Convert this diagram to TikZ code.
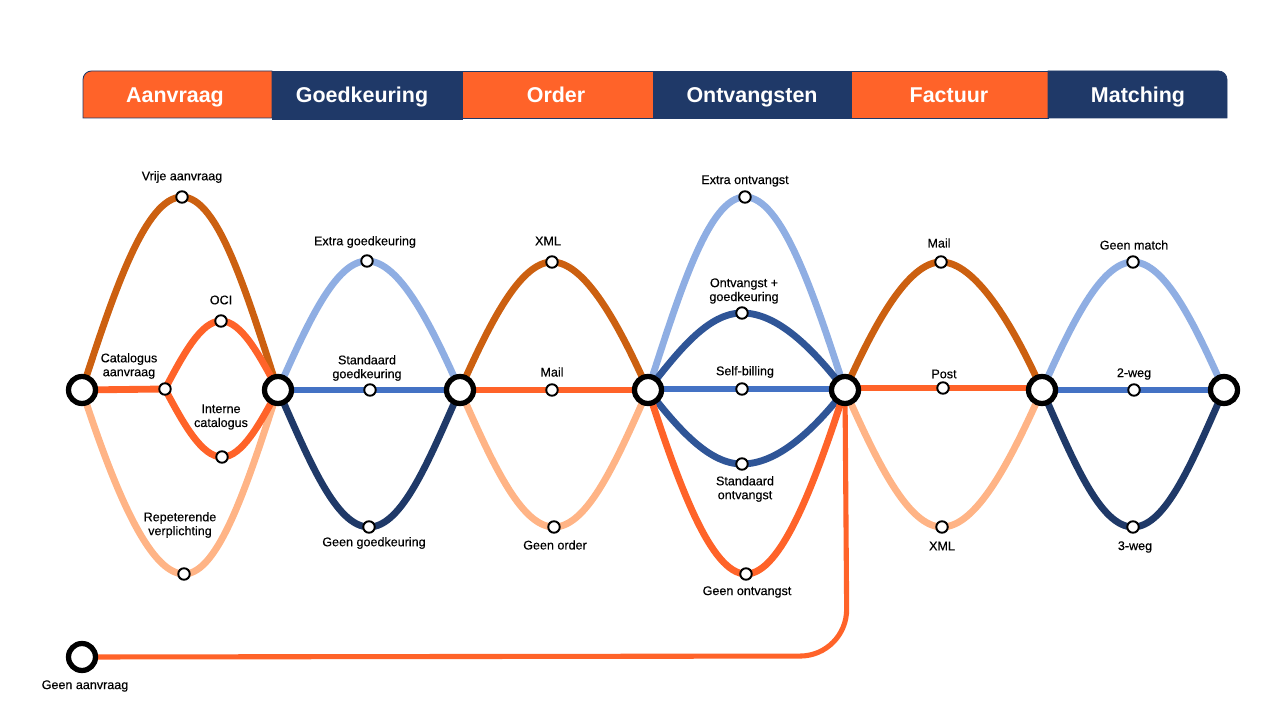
\documentclass[tikz,border=0pt]{standalone}
\usepackage{fontspec}
\setmainfont{Liberation Sans}
\newfontfamily\labelfont[FakeBold=0.35]{Liberation Sans}
\usepackage{tikz}
\usetikzlibrary{backgrounds}

\definecolor{MijnOranje}{HTML}{FF6329}
\definecolor{MijnBruin}{HTML}{CC6010}
\definecolor{MijnPerzik}{HTML}{FFB486}
\definecolor{MijnLicht}{HTML}{8FAEE3}
\definecolor{MijnBlauw}{HTML}{4472C4}
\definecolor{MijnMidden}{HTML}{2F5597}
\definecolor{MijnDonker}{HTML}{1F3968}

\tikzset{
    lijn/.style={line width=3.9pt},
    halte/.style={circle,draw=black,fill=white,line width=3pt,minimum size=.54cm,inner sep=0pt},
    stop/.style={circle,draw=black,fill=white,line width=1.1pt,minimum size=.23cm,inner sep=0pt},
    tekst/.style={align=center,font=\labelfont\fontsize{7.15}{7.9}\selectfont,text=black,inner sep=0pt},
    kop/.style={anchor=base,text=white,font=\fontsize{12.2}{14}\selectfont\bfseries,inner sep=0pt},
    heen/.style n args={3}{out=#1,in=180,out looseness=#2,in looseness=#3},
    terug/.style n args={3}{out=0,in=#1,out looseness=#3,in looseness=#2},
}

\begin{document}
\begin{tikzpicture}[x=.02cm,y=.02cm]
    \useasboundingbox (0,0) rectangle (1280,720);

    % Kopbalk met zes fasen
    \filldraw[MijnOranje,draw=MijnDonker,line width=.5pt] (83,602) [rounded corners=.17cm] --(83,649) [sharp corners] --(272,649)--(272,602)--cycle;
    \filldraw[MijnDonker] (272,601) rectangle (462,649);
    \filldraw[MijnOranje,draw=MijnDonker,line width=.5pt] (462,602) rectangle (653,649);
    \filldraw[MijnDonker] (653,602) rectangle (851,649);
    \filldraw[MijnOranje,draw=MijnDonker,line width=.5pt] (851,602) rectangle (1048,649);
    \filldraw[MijnDonker] (1048,602)--(1048,649) [rounded corners=.17cm] --(1227,649) [sharp corners] --(1227,602)--cycle;
    \node[kop] (kAanvraag) at (175,617) {Aanvraag};
    \node[kop] (kGoed) at (362,617) {Goedkeuring};
    \node[kop] (kOrder) at (556,617) {Order};
    \node[kop] (kOntv) at (752,617) {Ontvangsten};
    \node[kop] (kFactuur) at (949,617) {Factuur};
    \node[kop] (kMatching) at (1138,617) {Matching};

    % Grote haltes
    \node[halte] (h0) at (82,63) {};
    \node[halte] (h1) at (82,330) {};
    \node[halte] (h2) at (278,330) {};
    \node[halte] (h3) at (460,330) {};
    \node[halte] (h4) at (648,330) {};
    \node[halte] (h5) at (845,330) {};
    \node[halte] (h6) at (1042,330) {};
    \node[halte] (h7) at (1224,330) {};

    % Kleine haltes
    \node[stop] (vrij) at (182,523) {};
    \node[stop] (cat) at (165,331) {};
    \node[stop] (oci) at (221,399) {};
    \node[stop] (intern) at (222,263) {};
    \node[stop] (rep) at (184,146) {};
    \node[stop] (gExtra) at (367,459) {};
    \node[stop] (gStd) at (370,330) {};
    \node[stop] (gGeen) at (369,193) {};
    \node[stop] (oXml) at (552,458) {};
    \node[stop] (oMail) at (552,330) {};
    \node[stop] (oGeen) at (554,193) {};
    \node[stop] (vExtra) at (745,523) {};
    \node[stop] (vPlus) at (742,407) {};
    \node[stop] (vSelf) at (742,331) {};
    \node[stop] (vStd) at (742,256) {};
    \node[stop] (vGeen) at (746,146) {};
    \node[stop] (fMail) at (941,458) {};
    \node[stop] (fPost) at (943,332) {};
    \node[stop] (fXml) at (942,193) {};
    \node[stop] (mGeen) at (1133,458) {};
    \node[stop] (mTwee) at (1134,330) {};
    \node[stop] (mDrie) at (1133,193) {};

    \begin{scope}[on background layer]
    % Aanvraag
    \draw[lijn,MijnPerzik] (h1.center) to[heen={-72}{1.22}{.43}] (rep.center);
    \draw[lijn,MijnPerzik] (rep.center) to[terug={-108}{1.22}{.43}] (h2.center);
    \draw[lijn,MijnBruin] (h1.center) to[heen={72}{1.22}{.43}] (vrij.center);
    \draw[lijn,MijnBruin] (vrij.center) to[terug={108}{1.22}{.43}] (h2.center);
    \draw[lijn,MijnOranje] (h1.center)--(cat.center);
    \draw[lijn,MijnOranje] (cat.center) to[heen={62}{1.14}{.58}] (oci.center);
    \draw[lijn,MijnOranje] (oci.center) to[terug={118}{1.14}{.58}] (h2.center);
    \draw[lijn,MijnOranje] (cat.center) to[heen={-62}{1.14}{.58}] (intern.center);
    \draw[lijn,MijnOranje] (intern.center) to[terug={-118}{1.14}{.58}] (h2.center);

    % Goedkeuring
    \draw[lijn,MijnLicht] (h2.center) to[heen={66}{1.17}{.52}] (gExtra.center);
    \draw[lijn,MijnLicht] (gExtra.center) to[terug={114}{1.17}{.52}] (h3.center);
    \draw[lijn,MijnBlauw] (h2.center)--(gStd.center)--(h3.center);
    \draw[lijn,MijnDonker] (h2.center) to[heen={-66}{1.17}{.52}] (gGeen.center);
    \draw[lijn,MijnDonker] (gGeen.center) to[terug={-114}{1.17}{.52}] (h3.center);

    % Order
    \draw[lijn,MijnPerzik] (h3.center) to[heen={-66}{1.17}{.52}] (oGeen.center);
    \draw[lijn,MijnPerzik] (oGeen.center) to[terug={-114}{1.17}{.52}] (h4.center);
    \draw[lijn,MijnBruin] (h3.center) to[heen={66}{1.17}{.52}] (oXml.center);
    \draw[lijn,MijnBruin] (oXml.center) to[terug={114}{1.17}{.52}] (h4.center);
    \draw[lijn,MijnOranje] (h3.center)--(oMail.center)--(h4.center);

    % Ontvangsten
    \draw[lijn,MijnLicht] (h4.center) to[heen={72}{1.22}{.43}] (vExtra.center);
    \draw[lijn,MijnLicht] (vExtra.center) to[terug={108}{1.22}{.43}] (h5.center);
    \draw[lijn,MijnMidden] (h4.center) to[heen={52}{1.05}{.71}] (vPlus.center);
    \draw[lijn,MijnMidden] (vPlus.center) to[terug={128}{1.05}{.71}] (h5.center);
    \draw[lijn,MijnBlauw] (vSelf -| h4)--(vSelf.center)--(vSelf -| h5);
    \draw[lijn,MijnMidden] (h4.center) to[heen={-52}{1.05}{.71}] (vStd.center);
    \draw[lijn,MijnMidden] (vStd.center) to[terug={-128}{1.05}{.71}] (h5.center);
    \draw[lijn,MijnOranje] (h4.center) to[heen={-72}{1.22}{.43}] (vGeen.center);
    \draw[lijn,MijnOranje] (vGeen.center) to[terug={-108}{1.22}{.43}] (h5.center);

    % Factuur
    \draw[lijn,MijnPerzik] (h5.center) to[heen={-66}{1.17}{.52}] (fXml.center);
    \draw[lijn,MijnPerzik] (fXml.center) to[terug={-114}{1.17}{.52}] (h6.center);
    \draw[lijn,MijnBruin] (h5.center) to[heen={66}{1.17}{.52}] (fMail.center);
    \draw[lijn,MijnBruin] (fMail.center) to[terug={114}{1.17}{.52}] (h6.center);
    \draw[lijn,MijnOranje] (fPost -| h5)--(fPost.center)--(fPost -| h6);

    % Matching
    \draw[lijn,MijnLicht] (h6.center) to[heen={66}{1.17}{.52}] (mGeen.center);
    \draw[lijn,MijnLicht] (mGeen.center) to[terug={114}{1.17}{.52}] (h7.center);
    \draw[lijn,MijnBlauw] (h6.center)--(mTwee.center)--(h7.center);
    \draw[lijn,MijnDonker] (h6.center) to[heen={-66}{1.17}{.52}] (mDrie.center);
    \draw[lijn,MijnDonker] (mDrie.center) to[terug={-114}{1.17}{.52}] (h7.center);

    % Route zonder aanvraag
    \coordinate (hoek) at (847,64);
    \draw[line width=2.9pt,MijnOranje,rounded corners=.94cm] (h0.center)--(hoek)--(h5.center);
    \end{scope}

    % Teksten
    \node[tekst] (tVrij) at (182,543) {Vrije aanvraag};
    \node[tekst] (tOci) at (221,420) {OCI};
    \node[tekst] (tCat) at (129,354) {Catalogus\\aanvraag};
    \node[tekst] (tIntern) at (221,303) {Interne\\catalogus};
    \node[tekst] (tRep) at (180,195) {Repeterende\\verplichting};
    \node[tekst] (tgExtra) at (365,478) {Extra goedkeuring};
    \node[tekst] (tgStd) at (367,352) {Standaard\\goedkeuring};
    \node[tekst] (tgGeen) at (374,177) {Geen goedkeuring};
    \node[tekst] (toXml) at (548,479) {XML};
    \node[tekst] (toMail) at (552,348) {Mail};
    \node[tekst] (toGeen) at (555,175) {Geen order};
    \node[tekst] (tvExtra) at (745,539) {Extra ontvangst};
    \node[tekst] (tvPlus) at (744,429) {Ontvangst +\\goedkeuring};
    \node[tekst] (tvSelf) at (745,348) {Self-billing};
    \node[tekst] (tvStd) at (745,231) {Standaard\\ontvangst};
    \node[tekst] (tvGeen) at (747,128) {Geen ontvangst};
    \node[tekst] (tfMail) at (939,477) {Mail};
    \node[tekst] (tfPost) at (944,346) {Post};
    \node[tekst] (tfXml) at (942,174) {XML};
    \node[tekst] (tmGeen) at (1134,475) {Geen match};
    \node[tekst] (tmTwee) at (1134,346) {2-weg};
    \node[tekst] (tmDrie) at (1135,173) {3-weg};
    \node[tekst] (tGeen) at (85,34) {Geen aanvraag};

\end{tikzpicture}
\end{document}
